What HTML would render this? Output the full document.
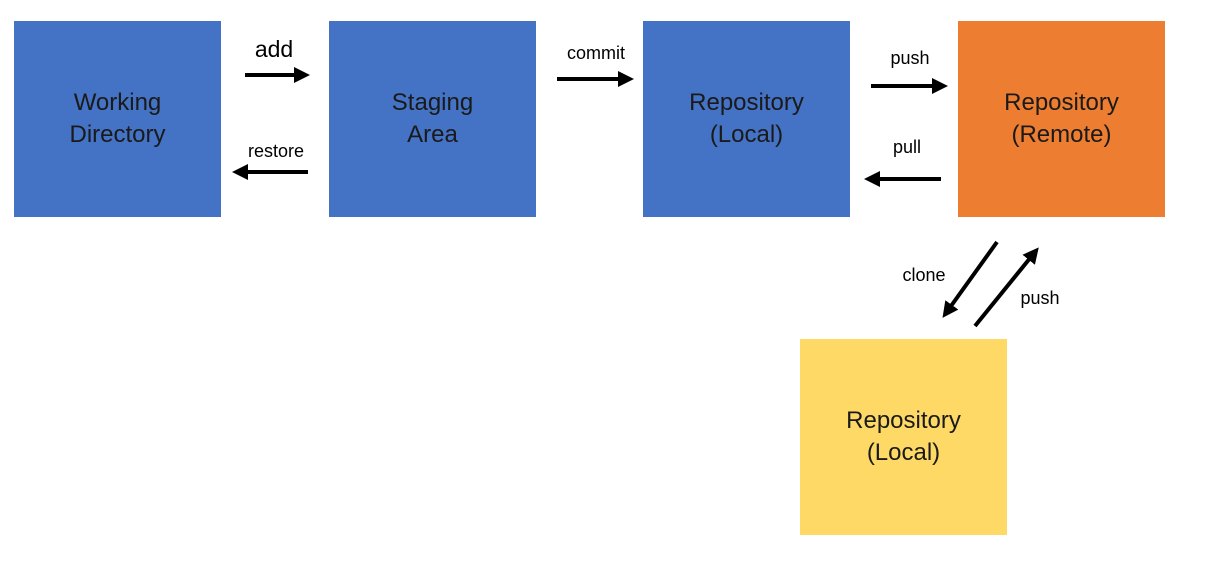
<!DOCTYPE html>
<html><head><meta charset="utf-8"><style>
body{margin:0;width:1211px;height:562px;background:#fff;position:relative;overflow:hidden;font-family:"Liberation Sans",sans-serif}
.b{position:absolute;width:207px;height:196px;display:flex;align-items:center;justify-content:center;text-align:center;font-size:24px;line-height:32px;color:#1a1a1a}
.l{position:absolute;font-size:18px;color:#000;transform:translateX(-50%)}
</style></head><body>
<div class="b" style="left:14px;top:21px;background:#4472C4">Working<br>Directory</div>
<div class="b" style="left:329px;top:21px;background:#4472C4">Staging<br>Area</div>
<div class="b" style="left:643px;top:21px;background:#4472C4">Repository<br>(Local)</div>
<div class="b" style="left:958px;top:21px;background:#ED7D31">Repository<br>(Remote)</div>
<div class="b" style="left:800px;top:339px;background:#FFD966">Repository<br>(Local)</div>
<svg width="1211" height="562" style="position:absolute;left:0;top:0">
<defs><marker id="a" markerWidth="4" markerHeight="4" refX="2.5" refY="2" orient="auto" markerUnits="strokeWidth"><path d="M0,0 L4,2 L0,4 z" fill="#000"/></marker></defs>
<g stroke="#000" stroke-width="4" marker-end="url(#a)">
<line x1="245" y1="75" x2="304" y2="75"/>
<line x1="308" y1="172" x2="238" y2="172"/>
<line x1="557" y1="79" x2="628" y2="79"/>
<line x1="871" y1="86" x2="942" y2="86"/>
<line x1="941" y1="179" x2="870" y2="179"/>
<line x1="997" y1="242" x2="946" y2="313"/>
<line x1="975" y1="326" x2="1035" y2="252"/>
</g></svg>
<div class="l" style="left:274px;top:36px;font-size:23px">add</div>
<div class="l" style="left:276px;top:141px">restore</div>
<div class="l" style="left:596px;top:43px">commit</div>
<div class="l" style="left:910px;top:48px">push</div>
<div class="l" style="left:907px;top:137px">pull</div>
<div class="l" style="left:924px;top:265px">clone</div>
<div class="l" style="left:1040px;top:288px">push</div>
</body></html>
